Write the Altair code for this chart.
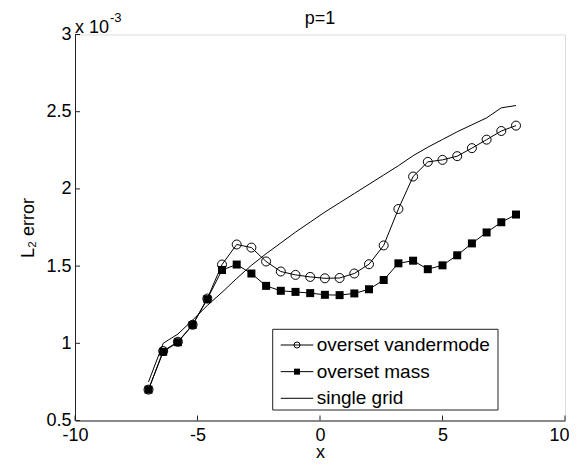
import altair as alt
import pandas as pd

# ---------------- data (values in units of 1e-3) ----------------
x_vals = [-7.0, -6.4, -5.8, -5.2, -4.6, -4.0, -3.4, -2.8, -2.2, -1.6, -1.0, -0.4, 0.2,
          0.8, 1.4, 2.0, 2.6, 3.2, 3.8, 4.4, 5.0, 5.6, 6.2, 6.8, 7.4, 8.0]
vandermode = [0.70, 0.95, 1.01, 1.12, 1.29, 1.51, 1.64, 1.62, 1.53, 1.465, 1.443, 1.43, 1.421,
              1.423, 1.452, 1.512, 1.634, 1.87, 2.08, 2.175, 2.188, 2.212, 2.264, 2.319, 2.375, 2.41]
mass = [0.70, 0.945, 1.007, 1.119, 1.286, 1.475, 1.51, 1.452, 1.372, 1.34, 1.333, 1.325, 1.314,
        1.312, 1.323, 1.35, 1.41, 1.518, 1.535, 1.48, 1.505, 1.57, 1.647, 1.718, 1.784, 1.834]
single = [0.75, 1.00, 1.06, 1.15, 1.245, 1.33, 1.42, 1.505, 1.58, 1.65, 1.72, 1.785, 1.85,
          1.91, 1.97, 2.03, 2.09, 2.15, 2.215, 2.27, 2.32, 2.37, 2.415, 2.46, 2.525, 2.54]
series_names = ["overset vandermode", "overset mass", "single grid"]
x_ticks = [-10, -5, 0, 5, 10]
y_ticks = [0.5, 1, 1.5, 2, 2.5, 3]

FONT = "Liberation Sans"
W, H = 490, 386

rows = []
for name, vals in zip(series_names, [vandermode, mass, single]):
    for xv, yv in zip(x_vals, vals):
        rows.append({"x": xv, "v": yv, "series": name})
df = pd.DataFrame(rows)

xs = alt.Scale(domain=[-10, 10], nice=False, zero=False)
ys = alt.Scale(domain=[0.5, 3], nice=False, zero=False)

x_axis = alt.Axis(values=x_ticks, labelExpr="'' + datum.value", labelFlush=False,
                  labelOffset={"condition": {"test": "datum.value == 10", "value": -6}, "value": 0},
                  labelFontSize=18, labelFont=FONT, labelPadding=6, labelColor="black",
                  ticks=False, grid=False, domainColor="#222", domainWidth=1,
                  title="x", titleFont=FONT, titleFontSize=18, titleFontWeight="normal",
                  titleX=W / 2, titleY=36.5, titleBaseline="alphabetic", titleColor="black")
y_axis = alt.Axis(values=y_ticks, labelExpr="'' + datum.value", labelFlush=False,
                  labelFontSize=18, labelFont=FONT, labelPadding=4, labelColor="black",
                  ticks=False, grid=False, domainColor="#222", domainWidth=1,
                  title="L₂ error", titleFont=FONT, titleFontSize=18, titleFontWeight="normal",
                  titleX=-42, titleY=H / 2, titleAngle=-90, titleBaseline="alphabetic",
                  titleAlign="center", titleColor="black")

X = alt.X("x:Q", scale=xs, axis=x_axis)
Y = alt.Y("v:Q", scale=ys, axis=y_axis)

base = alt.Chart(df)
single_line = base.transform_filter(alt.datum.series == "single grid").mark_line(
    color="black", strokeWidth=1).encode(x=X, y=Y)
vand_line = base.transform_filter(alt.datum.series == "overset vandermode").mark_line(
    color="black", strokeWidth=1).encode(x=X, y=Y)
vand_pts = base.transform_filter(alt.datum.series == "overset vandermode").mark_point(
    shape="circle", filled=False, size=81, stroke="black", strokeWidth=1, opacity=1).encode(x=X, y=Y)
mass_line = base.transform_filter(alt.datum.series == "overset mass").mark_line(
    color="black", strokeWidth=1).encode(x=X, y=Y)
mass_pts = base.transform_filter(alt.datum.series == "overset mass").mark_square(
    size=64, color="black", opacity=1).encode(x=X, y=Y)

xt = alt.Chart(pd.DataFrame({"x": x_ticks})).mark_rule(color="#222", strokeWidth=1).encode(
    x=X, y=alt.value(H), y2=alt.value(H - 5))
yt = alt.Chart(pd.DataFrame({"v": y_ticks})).mark_rule(color="#222", strokeWidth=1).encode(
    y=Y, x=alt.value(0), x2=alt.value(5))

one = pd.DataFrame({"a": [0]})
title_txt = alt.Chart(one).mark_text(text="p=1", font=FONT, fontSize=18, baseline="alphabetic",
                                     align="center", color="black").encode(
    x=alt.value(W / 2), y=alt.value(-10.5))
exp_base = alt.Chart(one).mark_text(text="x 10", font=FONT, fontSize=18, baseline="alphabetic",
                                    align="left", color="black").encode(
    x=alt.value(0), y=alt.value(-1.5))
exp_pow = alt.Chart(one).mark_text(text="-3", font=FONT, fontSize=13, baseline="alphabetic",
                                   align="left", color="black").encode(
    x=alt.value(35), y=alt.value(-12.5))

main = alt.layer(single_line, vand_line, mass_line, vand_pts, mass_pts, xt, yt,
                 title_txt, exp_base, exp_pow)

# ---------------- legend ----------------
leg_df = pd.DataFrame({"label": series_names})
LY = alt.Y("label:N", scale=alt.Scale(type="point", domain=series_names,
                                      range=[310.5, 363.8], padding=0), axis=None)
box = alt.Chart(one).mark_rect(fill="white", stroke="#222", strokeWidth=1).encode(
    x=alt.value(197.7), x2=alt.value(423), y=alt.value(294.8), y2=alt.value(375.5))
leg_lines = alt.Chart(leg_df).mark_rule(color="black", strokeWidth=1).encode(
    y=LY, x=alt.value(205.7), x2=alt.value(238.3))
leg_circ = alt.Chart(leg_df).transform_filter(alt.datum.label == "overset vandermode").mark_point(
    shape="circle", filled=False, size=36, stroke="black", strokeWidth=1, opacity=1).encode(
    y=LY, x=alt.value(222))
leg_sq = alt.Chart(leg_df).transform_filter(alt.datum.label == "overset mass").mark_square(
    size=36, color="black", opacity=1).encode(y=LY, x=alt.value(222))
leg_txt = alt.Chart(leg_df).mark_text(font=FONT, fontSize=19, align="left", baseline="middle",
                                      color="black").encode(
    y=LY, x=alt.value(241.7), text="label:N")
legend = alt.layer(box, leg_lines, leg_circ, leg_sq, leg_txt)

chart = alt.layer(main, legend).resolve_scale(y="independent").properties(
    width=W, height=H,
    autosize=alt.AutoSizeParams(type="none"),
    padding={"left": 67, "top": 26.5, "right": 4, "bottom": 37.5},
).configure_view(stroke=None).configure(background="white")

chart.save("out.html", embed_options={"renderer": "svg", "actions": False})
